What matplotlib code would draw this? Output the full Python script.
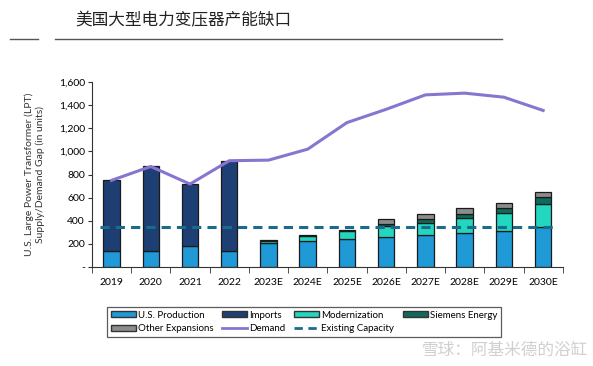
import numpy as np
import matplotlib.pyplot as plt
from matplotlib.lines import Line2D
from matplotlib.patches import Patch

plt.rcParams['font.family'] = ['Lato', 'Noto Sans CJK SC', 'DejaVu Sans']

# data
years = ['2019', '2020', '2021', '2022', '2023E', '2024E', '2025E',
         '2026E', '2027E', '2028E', '2029E', '2030E']
us_production = [135, 135, 178, 142, 205, 222, 242, 260, 280, 294, 314, 346]
imports = [620, 735, 540, 778, 0, 0, 0, 0, 0, 0, 0, 0]
modernization = [0, 0, 0, 0, 20, 48, 71, 91, 100, 130, 153, 199]
siemens = [0, 0, 0, 0, 5, 10, 8, 24, 35, 37, 43, 57]
other = [0, 0, 0, 0, 0, 0, 0, 40, 46, 46, 46, 47]
demand = [750, 870, 718, 920, 925, 1020, 1250, 1365, 1490, 1505, 1470, 1355]
existing_capacity = 350

c_us = '#1F9AD6'
c_imp = '#1E3F73'
c_mod = '#22D6BF'
c_sie = '#0F6A5C'
c_oth = '#8C8C8C'
c_dem = '#8875CF'
c_cap = '#1B6B8C'

fig = plt.figure(figsize=(5.93, 3.66), dpi=100)
ax = fig.add_axes([0.155, 0.2705, 0.794, 0.505])

x = np.arange(len(years))
w = 0.42
edge = dict(edgecolor='#1a1a1a', linewidth=0.9)
bottom = np.zeros(len(years))
for vals, col in [(us_production, c_us), (imports, c_imp), (modernization, c_mod),
                  (siemens, c_sie), (other, c_oth)]:
    v = np.array(vals, dtype=float)
    mask = v > 0
    ax.bar(x[mask], v[mask], w, bottom=bottom[mask], color=col, **edge, zorder=2)
    bottom += v

ax.plot(x, demand, color=c_dem, lw=2.2, zorder=3)
ax.plot([-0.3, 11.3], [existing_capacity, existing_capacity], color=c_cap,
        lw=2.2, ls=(0, (3, 2)), zorder=4)

ax.set_xlim(-0.5, 11.5)
ax.set_ylim(0, 1600)
ax.set_yticks(range(0, 1601, 200))
ax.set_yticklabels(['-'] + [f'{v:,}' for v in range(200, 1601, 200)], fontsize=7.5)
ax.set_xticks(x)
ax.set_xticklabels(years, fontsize=7.5)
ax.tick_params(axis='x', length=0, pad=8)
ax.set_xticks(np.arange(-0.5, 12, 1), minor=True)
ax.tick_params(axis='x', which='minor', length=4, direction='out', color='#333333')
ax.tick_params(axis='y', length=3, color='#333333', pad=2)
for s in ['top', 'right']:
    ax.spines[s].set_visible(False)
for s in ['left', 'bottom']:
    ax.spines[s].set_color('#333333')
ax.set_ylabel('U.S. Large Power Transformer (LPT)\nSupply/Demand Gap (in units)',
              fontsize=7.5, color='#333333', labelpad=10)

handles = [
    Patch(facecolor=c_us, edgecolor='#333333', label='U.S. Production'),
    Patch(facecolor=c_oth, edgecolor='#333333', label='Other Expansions'),
    Patch(facecolor=c_imp, edgecolor='#333333', label='Imports'),
    Line2D([], [], color=c_dem, lw=2, label='Demand'),
    Patch(facecolor=c_mod, edgecolor='#333333', label='Modernization'),
    Line2D([], [], color=c_cap, lw=2, ls=(0, (3, 2)), label='Existing Capacity'),
    Patch(facecolor=c_sie, edgecolor='#333333', label='Siemens Energy'),
]
leg = fig.legend(handles=handles, ncol=4, fontsize=7, loc='lower left',
                 bbox_to_anchor=(107 / 593, 1 - 337 / 366, 394 / 593, 40 / 366),
                 mode='expand', frameon=True, fancybox=False, handlelength=2.6,
                 handleheight=0.6, handletextpad=0.2, borderaxespad=0,
                 labelspacing=0.45, borderpad=0.4)
leg.get_frame().set_edgecolor('#333333')
leg.get_frame().set_linewidth(0.9)

# title and rules
fig.text(75 / 593, 1 - 20 / 366, '美国大型电力变压器产能缺口', fontsize=12,
         va='center', ha='left', color='#222222')
fig.add_artist(Line2D([10 / 593, 38 / 593], [1 - 39 / 366] * 2, color='#555555', lw=1))
fig.add_artist(Line2D([55 / 593, 502 / 593], [1 - 39 / 366] * 2, color='#555555', lw=1))

# watermark
fig.text(588 / 593, 1 - 350 / 366, '雪球：阿基米德的浴缸', fontsize=12,
         ha='right', va='center', color='#d0d0d0')

fig.savefig('out.png', dpi=100)
